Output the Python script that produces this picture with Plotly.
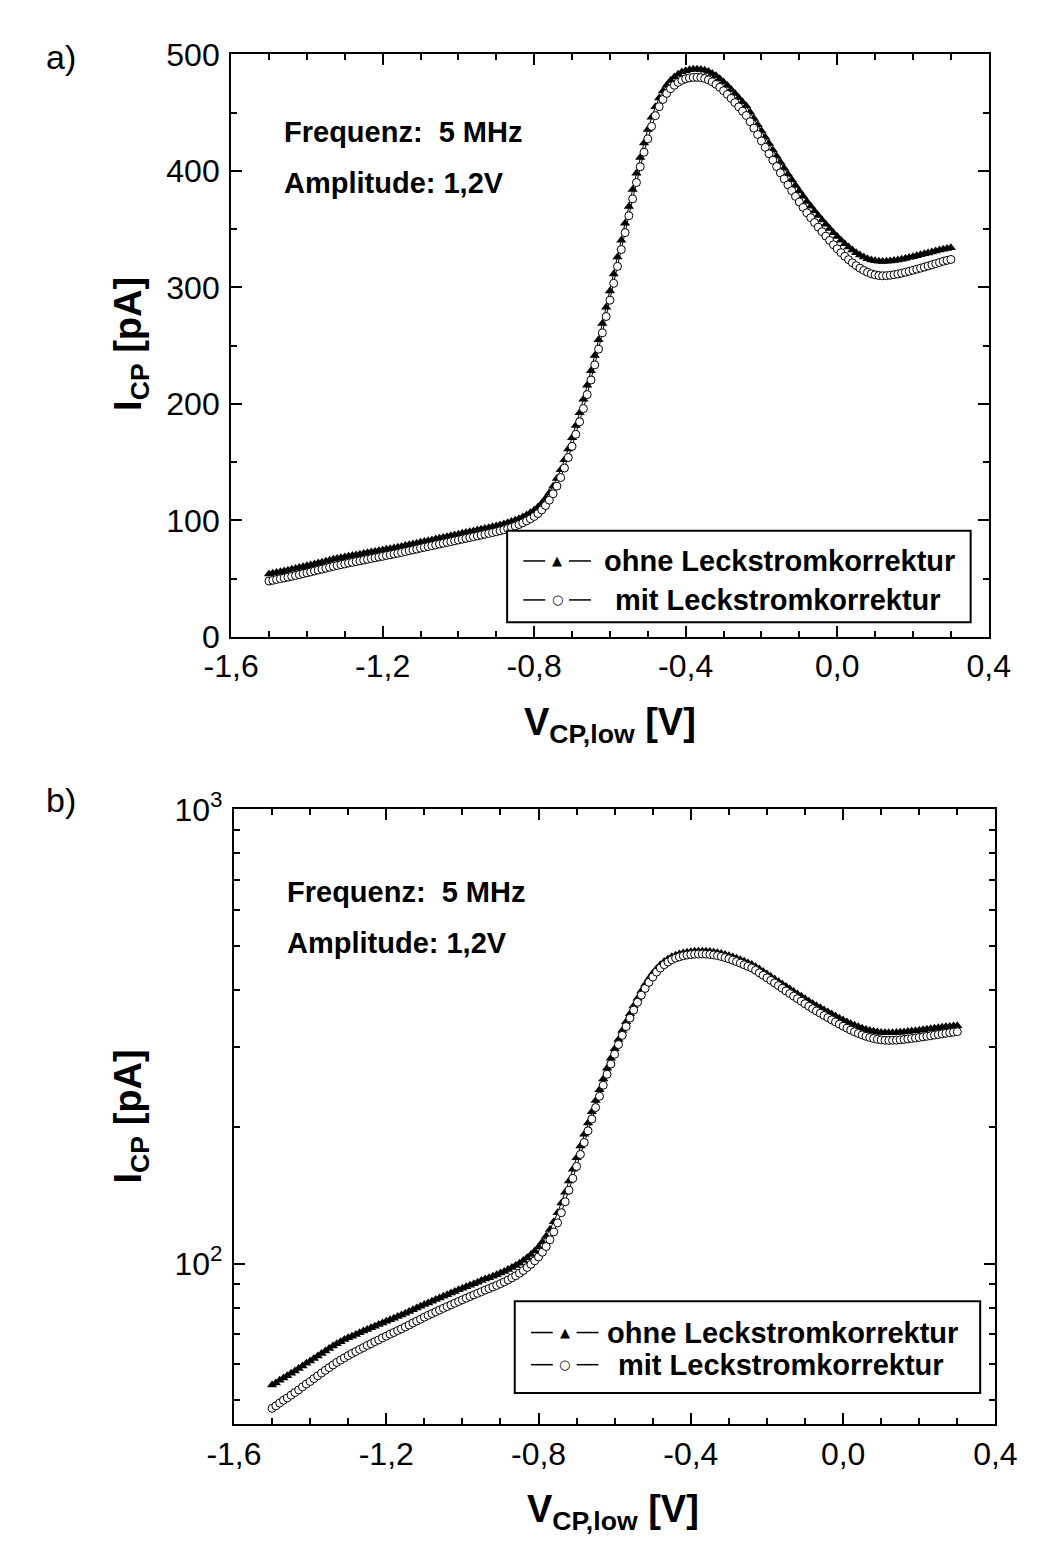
import plotly.graph_objects as go

# Sweep voltage grid (V), step 0.01 V from -1.50 to 0.30
V_CP_LOW = [round(-1.50 + 0.01 * i, 2) for i in range(181)]

# I_CP without leakage correction (pA)
I_OHNE = [
    54.0, 54.6, 55.3, 56.0, 56.6, 57.3, 58.0, 58.7, 59.5, 60.3,
    61.0, 61.8, 62.6, 63.4, 64.2, 65.0, 65.8, 66.6, 67.3, 68.0,
    68.6, 69.2, 69.8, 70.4, 71.0, 71.6, 72.2, 72.8, 73.4, 74.0,
    74.6, 75.2, 75.8, 76.4, 77.0, 77.7, 78.4, 79.1, 79.8, 80.5,
    81.2, 81.9, 82.6, 83.3, 84.0, 84.7, 85.4, 86.1, 86.8, 87.5,
    88.2, 88.9, 89.6, 90.3, 91.0, 91.7, 92.4, 93.1, 93.8, 94.5,
    95.3, 96.1, 97.0, 98.0, 99.0, 100.2, 101.5, 103.0, 104.7, 106.6,
    108.8, 111.5, 114.8, 118.8, 123.6, 129.3, 136.0, 143.6, 152.0, 161.2,
    171.0, 181.5, 192.5, 204.0, 216.0, 228.5, 241.5, 255.0, 269.0, 283.0,
    297.0, 311.5, 326.0, 340.5, 355.0, 369.5, 384.0, 398.0, 411.5, 424.0,
    435.5, 446.0, 455.0, 462.5, 468.5, 473.5, 477.5, 480.5, 483.0, 484.8,
    486.0, 486.8, 487.2, 487.3, 487.0, 486.3, 485.2, 483.6, 481.6, 479.1,
    476.3, 473.2, 469.9, 466.4, 462.8, 459.2, 455.6, 450.4, 445.0, 439.6,
    434.2, 428.8, 423.4, 418.0, 412.6, 407.3, 402.2, 397.2, 392.3, 387.5,
    382.8, 378.2, 373.7, 369.6, 365.6, 361.7, 357.9, 354.2, 350.6, 347.0,
    343.6, 340.4, 337.4, 334.6, 332.0, 329.7, 327.7, 326.0, 324.6, 323.5,
    322.8, 322.4, 322.3, 322.4, 322.7, 323.1, 323.6, 324.2, 324.9, 325.6,
    326.4, 327.2, 328.0, 328.8, 329.6, 330.4, 331.2, 332.0, 332.8, 333.4,
    334.0,
]

# I_CP with leakage correction (pA)
I_MIT = [
    48.0, 48.6, 49.3, 50.0, 50.6, 51.3, 52.0, 52.7, 53.5, 54.3,
    55.0, 55.8, 56.6, 57.4, 58.2, 59.0, 59.8, 60.6, 61.3, 62.0,
    62.7, 63.4, 64.0, 64.7, 65.3, 66.0, 66.6, 67.3, 67.9, 68.6,
    69.2, 69.9, 70.5, 71.2, 71.8, 72.5, 73.2, 74.0, 74.7, 75.4,
    76.2, 76.9, 77.6, 78.3, 79.0, 79.7, 80.4, 81.1, 81.8, 82.5,
    83.2, 83.9, 84.6, 85.3, 86.0, 86.7, 87.4, 88.1, 88.8, 89.5,
    90.3, 91.1, 92.0, 93.0, 94.0, 95.2, 96.5, 98.0, 99.6, 101.4,
    103.4, 105.9, 109.0, 112.8, 117.4, 122.9, 129.4, 136.8, 145.0, 154.0,
    163.6, 173.9, 184.7, 196.0, 208.0, 220.5, 233.5, 247.0, 261.0, 275.0,
    289.0, 303.5, 318.0, 332.5, 347.0, 361.5, 376.0, 390.0, 403.5, 416.0,
    427.5, 438.2, 447.4, 455.1, 461.3, 466.5, 470.5, 473.5, 476.0, 477.8,
    479.0, 479.8, 480.2, 480.3, 480.0, 479.3, 478.1, 476.4, 474.3, 471.7,
    468.8, 465.6, 462.2, 458.6, 454.9, 451.2, 447.5, 442.2, 436.7, 431.2,
    425.7, 420.2, 414.7, 409.2, 403.7, 398.3, 393.1, 388.0, 383.0, 378.1,
    373.3, 368.6, 364.0, 359.8, 355.7, 351.7, 347.8, 344.0, 340.3, 336.6,
    333.1, 329.8, 326.7, 323.8, 321.1, 318.7, 316.5, 314.6, 313.0, 311.7,
    310.8, 310.2, 310.0, 310.1, 310.4, 310.9, 311.5, 312.2, 313.0, 313.8,
    314.7, 315.6, 316.5, 317.4, 318.4, 319.4, 320.4, 321.4, 322.4, 323.2,
    324.0,
]

SERIES_NAMES = ["ohne Leckstromkorrektur", "mit Leckstromkorrektur"]
X_TICKS = [-1.6, -1.2, -0.8, -0.4, 0.0, 0.4]
X_TICK_TEXT = ["-1,6", "-1,2", "-0,8", "-0,4", "0,0", "0,4"]
Y_TICKS_LIN = [0, 100, 200, 300, 400, 500]
Y_TICKS_LOG = [100, 1000]
Y_TICK_TEXT_LOG = ["10<sup>2</sup>", "10<sup>3</sup>"]
Y_MINOR_LOG = [50, 60, 70, 80, 90, 200, 300, 400, 500, 600, 700, 800, 900]

FONT = "Liberation Sans, Arial, sans-serif"
W, H = 1037, 1552

fig = go.Figure()

for xa, ya in [("x", "y"), ("x2", "y2")]:
    fig.add_trace(go.Scatter(
        x=V_CP_LOW, y=I_OHNE, name=SERIES_NAMES[0], mode="lines+markers",
        line=dict(color="black", width=1),
        marker=dict(symbol="triangle-up", size=9, color="black"),
        xaxis=xa, yaxis=ya, showlegend=False,
    ))
    fig.add_trace(go.Scatter(
        x=V_CP_LOW, y=I_MIT, name=SERIES_NAMES[1], mode="lines+markers",
        line=dict(color="black", width=1),
        marker=dict(symbol="circle", size=8, color="white",
                    line=dict(color="black", width=1)),
        xaxis=xa, yaxis=ya, showlegend=False,
    ))


def px_x(p):
    return p / W


def px_y(p):
    return 1 - p / H


axis_common = dict(
    showline=True, linecolor="black", linewidth=2, mirror="allticks",
    ticks="inside", ticklen=11, tickwidth=2, tickcolor="black",
    showgrid=False, zeroline=False,
    tickfont=dict(family=FONT, size=32, color="black"),
)
minor_common = dict(ticks="inside", ticklen=6, tickwidth=2, tickcolor="black", showgrid=False)

xcommon = dict(axis_common, range=[-1.6, 0.4], tickvals=X_TICKS, ticktext=X_TICK_TEXT,
               ticklabelstandoff=0,
               minor=dict(minor_common, dtick=0.1, tick0=-1.6))

fig.update_layout(
    width=W, height=H,
    margin=dict(l=0, r=0, t=0, b=0),
    plot_bgcolor="white", paper_bgcolor="white",
    font=dict(family=FONT, color="black"),
    showlegend=False,
    xaxis=dict(xcommon, domain=[px_x(205), px_x(1001)], anchor="y"),
    yaxis=dict(axis_common, domain=[px_y(623), px_y(25)], anchor="x",
               range=[0, 500], tickvals=Y_TICKS_LIN, ticklabelstandoff=3,
               minor=dict(minor_common, dtick=50, tick0=0)),
    xaxis2=dict(xcommon, domain=[px_x(208), px_x(1008)], anchor="y2"),
    yaxis2=dict(axis_common, domain=[px_y(1431), px_y(800)], anchor="x2",
                type="log", range=[1.6464, 3.0], tickvals=Y_TICKS_LOG,
                ticktext=Y_TICK_TEXT_LOG, ticklabelstandoff=3,
                minor=dict(minor_common, tickvals=Y_MINOR_LOG)),
)

ann = []
shapes = []


def add_text(text, x, y, size, bold=False, angle=0, xanchor="center"):
    ann.append(dict(text=text, x=px_x(x), y=px_y(y), xref="paper", yref="paper",
                    showarrow=False, textangle=angle, xanchor=xanchor, yanchor="middle",
                    font=dict(family=FONT, size=size, color="black",
                              weight="bold" if bold else "normal")))


def add_legend(box, rows):
    x0, y0, x1, y1 = box
    shapes.append(dict(type="rect", xref="paper", yref="paper",
                       x0=px_x(x0), x1=px_x(x1), y0=px_y(y1), y1=px_y(y0),
                       line=dict(color="black", width=2), fillcolor="white", layer="above"))
    for name, glyph, gsize, yc, tx in rows:
        for a, b in [(x0 + 17, x0 + 40), (x0 + 65, x0 + 88)]:
            shapes.append(dict(type="line", xref="paper", yref="paper",
                               x0=px_x(a), x1=px_x(b), y0=px_y(yc), y1=px_y(yc),
                               line=dict(color="black", width=1.5), layer="above"))
        ann.append(dict(text=glyph, x=px_x(x0 + 52.5), y=px_y(yc), xref="paper", yref="paper",
                        showarrow=False, xanchor="center", yanchor="middle",
                        font=dict(family="DejaVu Sans", size=gsize, color="black")))
        add_text(name, tx, yc, 29, bold=True, xanchor="left")


add_text("a)", 8, 28, 34, xanchor="left")
add_text("b)", 8, 790, 34, xanchor="left")
# panel a texts
add_text("Frequenz:  5 MHz", 258, 105, 29, bold=True, xanchor="left")
add_text("Amplitude: 1,2V", 258, 157, 29, bold=True, xanchor="left")
add_text("I<sub>CP</sub> [pA]", 100, 322, 38, bold=True, angle=-90)
add_text("V<sub>CP,low</sub> [V]", 603, 713, 38, bold=True)
add_legend((495, 514, 982, 608),
           [(SERIES_NAMES[0], "▲", 13, 545, 595), (SERIES_NAMES[1], "○", 13, 585, 606)])
# panel b texts
add_text("Frequenz:  5 MHz", 262, 885, 29, bold=True, xanchor="left")
add_text("Amplitude: 1,2V", 262, 937, 29, bold=True, xanchor="left")
add_text("I<sub>CP</sub> [pA]", 100, 1115, 38, bold=True, angle=-90)
add_text("V<sub>CP,low</sub> [V]", 606, 1521, 38, bold=True)
add_legend((503, 1305, 992, 1399),
           [(SERIES_NAMES[0], "▲", 13, 1337, 598), (SERIES_NAMES[1], "○", 13, 1370, 609)])

fig.update_layout(annotations=ann, shapes=shapes)

fig.write_html("out.html")
